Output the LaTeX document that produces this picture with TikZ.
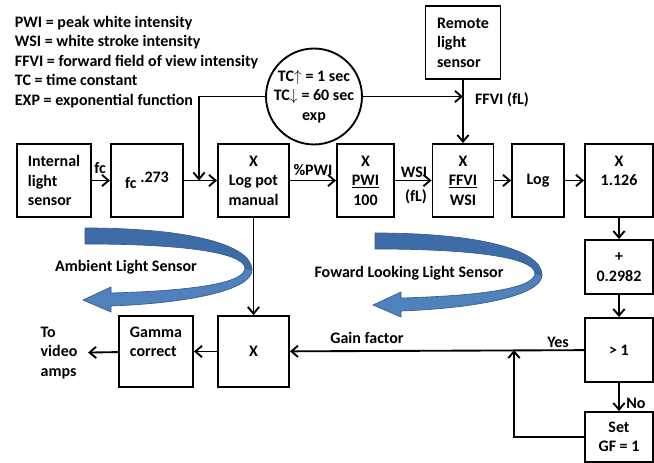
\documentclass[tikz,border=0pt]{standalone}
\usepackage{fontspec}
\setmainfont{Carlito}
\usetikzlibrary{arrows.meta}
\definecolor{RibbonBlue}{HTML}{4F81BD}
\definecolor{RibbonDark}{HTML}{3E6CA8}
\definecolor{RibbonEdge}{HTML}{385D8A}

\tikzset{
  ribbon/.pic={
    \filldraw[RibbonDark, draw=RibbonEdge, line width=0.5pt]
      (0,0) .. controls (105,0) and (167,17) .. (167,42) -- (160,40)
      .. controls (158,24) and (95,16) .. (0,16) -- cycle;
    \filldraw[RibbonBlue, draw=RibbonEdge, line width=0.5pt]
      (167,42) .. controls (167,62) and (105,75) .. (26,78) -- (26,84) -- (-2,72)
      -- (26,59) -- (26,65) .. controls (95,63) and (160,57) .. (160,40) -- cycle;
  }
}

\begin{document}
\begin{tikzpicture}[x=0.75pt, y=-0.75pt, line width=1.4pt,
    font=\fontsize{12}{14.7}\selectfont\bfseries,
    box/.style={draw, line width=1.4pt, minimum height=54.75pt, inner sep=2pt, align=center},
    arr/.style={-{Straight Barb[length=5pt,width=8.5pt]}},
    lbl/.style={inner sep=1pt}
  ]
  \useasboundingbox (0,0) rectangle (654,463);

  % legend
  \node[anchor=west, align=left, inner sep=0] (legend) at (14,62)
    {PWI = peak white intensity\\WSI = white stroke intensity\\FFVI = forward field of view intensity\\TC = time constant\\EXP = exponential function};

  % top row
  \node[box, minimum width=55.5pt, align=left] (inl) at (54,180.5) {Internal\\light\\sensor};
  \node[box, minimum width=54pt] (pw273) at (147,180.5) {fc \raisebox{0.8ex}{.273}};
  \node[box, minimum width=53.25pt] (logpot) at (253.5,180.5) {X\\Log pot\\manual};
  \node[box, minimum width=42.75pt] (pwi) at (365.5,180.5) {X\\\underline{PWI}\\100};
  \node[box, minimum width=45.75pt] (ffvi) at (463,180.5) {X\\\underline{FFVI}\\WSI};
  \node[box, minimum width=39pt] (log) at (538,180.5) {Log};
  \node[box, minimum width=51pt] (mul) at (619,180.5) {X\\1.126\\~};
  \node[box, minimum width=56.25pt, align=left] (remote) at (463,42.5) {Remote\\light\\sensor};
  \node[draw, circle, line width=1.4pt, minimum size=71pt, inner sep=0, align=center] (tc) at (314,96.5)
    {TC$\uparrow$ = 1 sec\\TC$\downarrow$ = 60 sec\\exp};

  % right column
  \node[box, minimum width=51pt, minimum height=40.5pt] (plus) at (619,267) {+\\0.2982};
  \node[box, minimum width=51pt, minimum height=48pt] (gt1) at (619,350) {> 1};
  \node[box, minimum width=51pt, minimum height=37.5pt] (setgf) at (619,437) {Set\\GF = 1};

  % bottom row
  \node[box, minimum width=53.25pt, minimum height=53.25pt] (multx) at (253.5,351.5) {X};
  \node[box, minimum width=55.5pt, minimum height=53.25pt, align=left] (gamma) at (156,351.5) {Gamma\\correct\\~};
  \node[align=left, inner sep=0, outer sep=8pt, anchor=west] (vid) at (30,353) {To\\video\\amps};

  % ribbons
  \pic at (85,228) {ribbon};
  \pic at (375,233) {ribbon};
  \node[lbl] (amb) at (126,267) {Ambient Light Sensor};
  \node[lbl] (fwd) at (409,273) {Foward Looking Light Sensor};

  % junctions
  \coordinate (lj) at (199,96.5);
  \coordinate (lk) at (199,180.5);
  \coordinate (rj) at (463,96.5);
  \coordinate (fb) at (514,350);

  % connectors
  \draw[arr] (inl) -- (pw273);
  \draw[arr] (pw273) -- (logpot);
  \draw[arr] (logpot) -- (pwi);
  \draw[arr] (pwi) -- (ffvi);
  \draw[arr] (ffvi) -- (log);
  \draw[arr] (log) -- (mul);
  \draw[arr] (remote) -- (ffvi);
  \draw[arr] (tc.east) -- (rj);
  \draw[arr] (tc.west) -- (lj) -- (lk);
  \draw[arr] (logpot) -- (multx);
  \draw[arr] (mul) -- (plus);
  \draw[arr] (plus) -- (gt1);
  \draw[arr] (gt1) -- (setgf);
  \draw[arr] (gt1) -- (multx);
  \draw[arr] (setgf.west) -| (fb);
  \draw[arr] (multx) -- (gamma);
  \draw[arr] (gamma) -- (vid);

  % connector labels
  \node[lbl] (fc) at (100,168) {fc};
  \node[lbl] (ppwi) at (313,170) {\%PWI};
  \node[lbl] (wsi) at (414,172) {WSI};
  \node[lbl] (fl) at (416,197) {(fL)};
  \node[lbl] (ffvil) at (502,100) {FFVI (fL)};
  \node[lbl] (gain) at (367,338) {Gain factor};
  \node[lbl] (yes) at (558,342) {Yes};
  \node[lbl] (no) at (636,403) {No};
\end{tikzpicture}
\end{document}
